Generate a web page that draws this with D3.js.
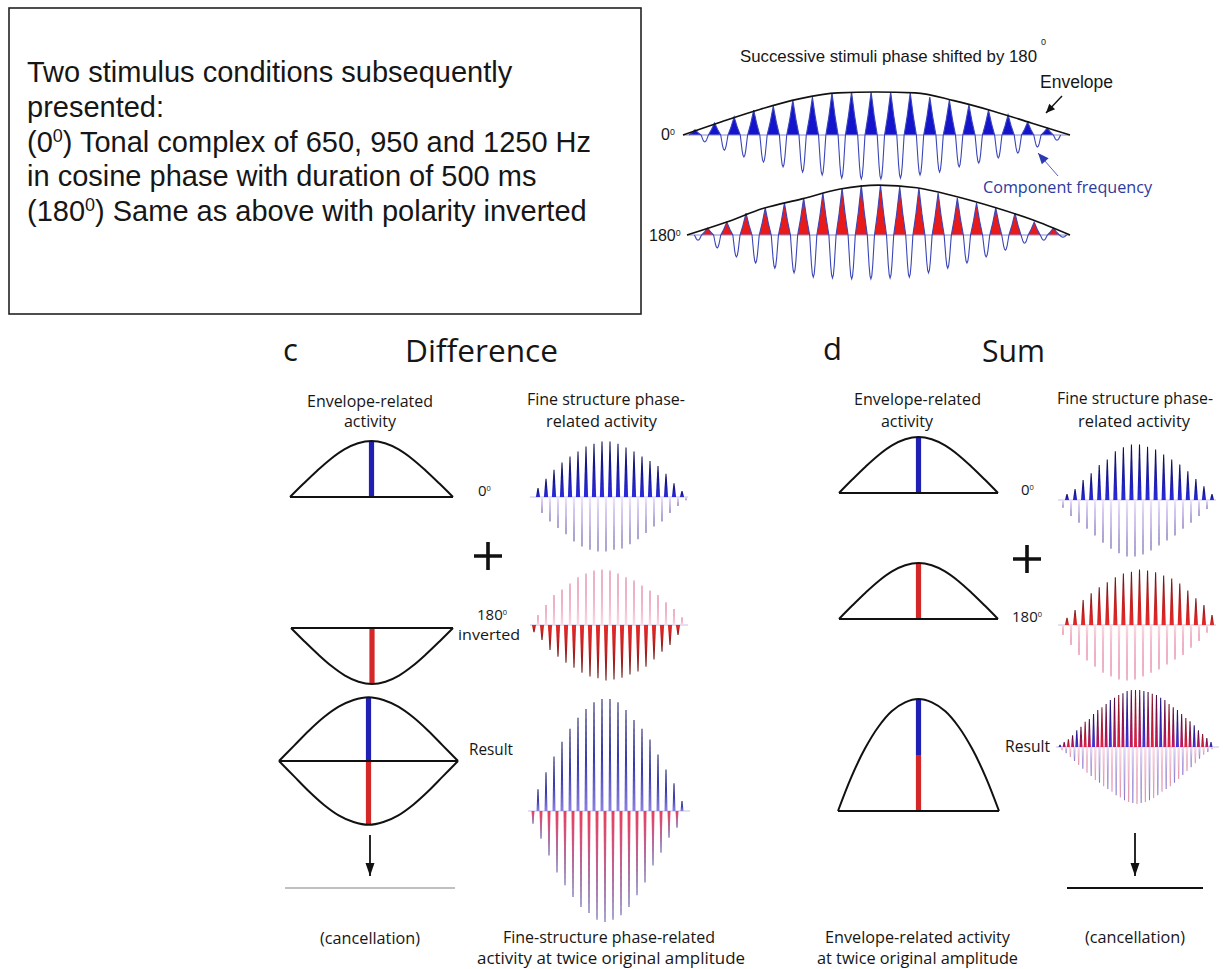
<!DOCTYPE html>
<html>
<head>
<meta charset="utf-8">
<script src="https://cdn.jsdelivr.net/npm/d3@7"></script>
<style>
  html, body { margin: 0; background: #fff; }
  svg { display: block; }
</style>
</head>
<body>
<svg id="fig" width="1223" height="969"></svg>
<script>
// ---------------------------------------------------------------------
// Stimulus waveforms (top right). Signed lobe amplitudes, in % of the
// 0-degree peak, ordered left to right (half-cycles).
const wave0 = [12,-16,28,-35,42,-51,58,-63,67,-74,81,-86,88,-93,98,-100,100,-102,100,
               -102,100,-100,98,-93,88,-86,81,-74,70,-65,58,-53,47,-42,30,-28,16,-12];
const wave180 = [-12,16,-30,30,-51,51,-65,63,-77,74,-88,86,-98,98,-100,109,-102,116,-102,
                 116,-100,112,-98,109,-88,98,-77,86,-65,74,-51,63,-35,51,-19,30,-12,16,-5];
// Envelope heights (%), sampled evenly across each stimulus
const envelope0 = [0, 31, 60, 84, 98, 100, 98, 80, 56, 28, 0];
const envelope180 = [0, 29, 62, 84, 107, 116, 110, 90, 65, 36, 0];

// Envelope-related activity (%), sampled evenly across each dome
const envSingle = [0, 24, 47, 68, 85, 96, 100, 96, 85, 68, 47, 24, 0];
const envDiffResult = [0, 27, 54, 78, 97, 109, 114, 109, 97, 78, 54, 27, 0];
const envSumResult = [0, 61, 111, 150, 178, 194, 200, 194, 178, 150, 111, 61, 0];

// Fine-structure phase-related activity (%), one value per spike
const diff0Up   = [16, 33, 49, 62, 73, 82, 91, 96, 100, 100, 96, 89, 82, 73, 65, 56, 42, 25, 11];
const diff0Down = [29, 44, 56, 67, 80, 89, 95, 98, 98, 95, 93, 85, 76, 65, 53, 44, 29, 16, 6];
const fine180Pale = [18, 36, 54, 64, 75, 86, 93, 98, 100, 98, 93, 86, 80, 71, 62, 54, 41, 29, 14];
const fine180Dark = [13, 27, 45, 57, 68, 77, 86, 93, 96, 100, 98, 95, 89, 84, 75, 62, 48, 36, 18];
const diffResultUp   = [39, 70, 98, 125, 148, 168, 184, 196, 202, 202, 196, 182, 164, 148, 129, 102, 75, 50, 18];
const diffResultDown = [23, 50, 80, 111, 134, 155, 173, 184, 196, 200, 196, 188, 173, 152, 129, 98, 75, 48, 30];
const sum0Up   = [11, 20, 36, 48, 63, 73, 88, 95, 100, 100, 96, 91, 82, 73, 64, 52, 38, 25, 11];
const sum0Down = [14, 29, 41, 52, 64, 77, 88, 96, 102, 102, 98, 91, 82, 73, 64, 52, 41, 29, 16];
const sumResultUp = [4, 9, 14, 21, 30, 36, 45, 50, 59, 66, 71, 77, 84, 88, 93, 96, 100, 102, 102,
                     102, 100, 98, 95, 93, 88, 84, 77, 71, 66, 59, 52, 46, 39, 30, 23, 16, 9];
const sumResultDown = [6, 11, 18, 25, 32, 39, 46, 52, 59, 64, 70, 75, 80, 86, 90, 95, 98, 100, 102,
                       100, 98, 95, 91, 86, 80, 75, 70, 64, 57, 50, 43, 36, 29, 21, 14, 9, 4];

// Text
const boxLines = [
  ["Two stimulus conditions subsequently"],
  ["presented:"],
  ["(0", "0", ") Tonal complex of 650, 950 and 1250 Hz"],
  ["in cosine phase with duration of 500 ms"],
  ["(180", "0", ") Same as above with polarity inverted"]
];
const stimTitle = "Successive stimuli phase shifted by 180";
// ---------------------------------------------------------------------

const svg = d3.select("#fig");
const defs = svg.append("defs");

function grad(id, stops) {
  const g = defs.append("linearGradient").attr("id", id)
    .attr("x1", 0).attr("y1", 0).attr("x2", 0).attr("y2", 1);
  stops.forEach(([o, c]) => g.append("stop").attr("offset", o).attr("stop-color", c));
}
grad("blueUp",   [[0, "#0c0c48"], [0.35, "#15158c"], [1, "#2c2ce0"]]);
grad("blueDown", [[0, "#efe6fa"], [0.5, "#c2b2e6"], [1, "#5e4ea2"]]);
grad("redDown",  [[0, "#e82a2a"], [0.6, "#b41e1e"], [1, "#5e1212"]]);
grad("redUp",    [[0, "#5e1212"], [0.4, "#b41e1e"], [1, "#e82a2a"]]);
grad("pinkUp",   [[0, "#dc7090"], [0.5, "#f0b0c2"], [1, "#f8dce4"]]);
grad("pinkDown", [[0, "#f8dce4"], [0.5, "#f0b0c2"], [1, "#dc7090"]]);
grad("diffUp",   [[0, "#1a1a66"], [0.5, "#3838b0"], [1, "#8c82e2"]]);
grad("diffDown", [[0, "#e8405e"], [0.5, "#c06090"], [1, "#5a50a2"]]);
grad("sumA", [[0, "#1a1070"], [1, "#4434d8"]]);
grad("sumB", [[0, "#4a0a3e"], [1, "#c81a62"]]);
grad("sumC", [[0, "#7a1020"], [1, "#e42444"]]);
grad("sumDA", [[0, "#fbe0e8"], [1, "#e08aa2"]]);
grad("sumDB", [[0, "#e6def8"], [1, "#8474cc"]]);
const soft = defs.append("filter").attr("id", "soft").attr("x", "-5%").attr("y", "-5%")
  .attr("width", "110%").attr("height", "110%");
soft.append("feGaussianBlur").attr("stdDeviation", 0.45);

// ---------- helpers ----------
function txt(x, y, parts, o = {}) {
  const t = svg.append("text")
    .attr("x", x).attr("y", y)
    .attr("font-family", o.font || "'Open Sans', sans-serif")
    .attr("font-size", o.size || 16)
    .attr("fill", o.color || "#161616")
    .attr("text-anchor", o.anchor || "start");
  if (o.len) t.attr("textLength", o.len).attr("lengthAdjust", "spacingAndGlyphs");
  const arr = Array.isArray(parts) ? parts : [parts];
  arr.forEach((p, i) => {
    const s = t.append("tspan").text(p);
    if (i % 2 === 1) s.attr("font-size", (o.size || 16) * (o.supScale || 0.6)).attr("baseline-shift", "super");
  });
  return t;
}
function arrow(x1, y1, x2, y2, color, w, head) {
  svg.append("line").attr("x1", x1).attr("y1", y1).attr("x2", x2).attr("y2", y2)
    .attr("stroke", color).attr("stroke-width", w);
  const a = Math.atan2(y2 - y1, x2 - x1), L = head[0], H = head[1];
  const bx = x2 - L * Math.cos(a), by = y2 - L * Math.sin(a);
  const px = -Math.sin(a) * H / 2, py = Math.cos(a) * H / 2;
  svg.append("path").attr("d", `M${x2},${y2}L${bx + px},${by + py}L${bx - px},${by - py}Z`).attr("fill", color);
}
function plus(cx, cy, r) {
  svg.append("path").attr("d", `M${cx - r},${cy}H${cx + r}M${cx},${cy - r}V${cy + r}`)
    .attr("stroke", "#111").attr("stroke-width", 3.6);
}

// ---------- text box ----------
svg.append("rect").attr("x", 9).attr("y", 8).attr("width", 632).attr("height", 306)
  .attr("fill", "none").attr("stroke", "#222").attr("stroke-width", 1.6);
const boxY = d3.scaleLinear().domain([0, 4]).range([82, 221]);
boxLines.forEach((ln, i) => txt(27, boxY(i), ln, { font: "'Liberation Sans', Arial, sans-serif", size: 29, supScale: 0.62 }));

// ---------- stimulus waveforms ----------
txt(740, 62, [stimTitle], { font: "'Liberation Sans', Arial, sans-serif", size: 17, len: 297 });
txt(1041, 45, "0", { font: "'Liberation Sans', Arial, sans-serif", size: 9 });

// lobe outlines as (fraction of lobe half-width, fraction of amplitude)
const posTpl = [[-1, 0], [-0.5, 0.45], [0, 1], [0.5, 0.45], [1, 0]];
const negTpl = [[-1, 0], [-0.75, 0.35], [-0.5, 0.7], [-0.25, 0.93], [0, 1], [0.25, 0.93], [0.5, 0.7], [0.75, 0.35], [1, 0]];
const POS_W = 1.25, NEG_W = 0.75;   // positive lobes broad, negative lobes narrow

function stimulus(vals, env, base, lobeRange, envRange, fillColor) {
  const g = svg.append("g");
  const xs = d3.scaleLinear().domain([0, vals.length - 1]).range(lobeRange);
  const ys = d3.scaleLinear().domain([0, 100]).range([0, 43]);
  const hw = (xs(1) - xs(0)) / 2;
  const lobe = (v, i) => {
    const w = (v > 0 ? POS_W : NEG_W) * hw;
    return (v > 0 ? posTpl : negTpl).map(([fx, fy]) => [xs(i) + fx * w, base - ys(v) * fy]);
  };
  // filled positive half-cycles
  vals.forEach((v, i) => {
    if (v > 0) g.append("path").attr("d", d3.line()(lobe(v, i)) + "Z").attr("fill", fillColor);
  });
  // zero line
  g.append("line").attr("x1", envRange[0]).attr("x2", envRange[1]).attr("y1", base).attr("y2", base)
    .attr("stroke", "#8a8ad0").attr("stroke-width", 1);
  // waveform outline
  const pts = [];
  vals.forEach((v, i) => lobe(v, i).forEach((p, j) => { if (j > 0 || !pts.length) pts.push(p); }));
  g.append("path").attr("d", d3.line()(pts)).attr("fill", "none")
    .attr("stroke", "#3a46b8").attr("stroke-width", 1.1);
  // envelope
  const ex = d3.scaleLinear().domain([0, env.length - 1]).range(envRange);
  g.append("path")
    .attr("d", d3.line().x((d, i) => ex(i)).y(d => base - ys(d)).curve(d3.curveMonotoneX)(env))
    .attr("fill", "none").attr("stroke", "#111").attr("stroke-width", 1.6);
}
stimulus(wave0, envelope0, 135, [695, 1057], [683, 1070], "#1414cc");
stimulus(wave180, envelope180, 235, [698, 1063], [687, 1070], "#e81a1a");

txt(661, 140, ["0", "0"], { font: "'Liberation Sans', Arial, sans-serif", size: 16, supScale: 0.55 });
txt(649, 241, ["180", "0"], { font: "'Liberation Sans', Arial, sans-serif", size: 16, supScale: 0.55 });
txt(1040, 88, "Envelope", { font: "'Liberation Sans', Arial, sans-serif", size: 17.5 });
arrow(1062, 96, 1046, 113, "#111", 1.4, [9, 8]);
txt(983, 193, "Component frequency", { size: 17, len: 169, color: "#2c3a9e" });
arrow(1058, 176, 1038, 153, "#2c3ab0", 0.8, [11, 9]);

// ---------- envelope-related activity ----------
function envPanel(shape, x0, x1, base, dir, bars) {
  const g = svg.append("g");
  const xs = d3.scaleLinear().domain([0, shape.length - 1]).range([x0, x1]);
  const ys = d3.scaleLinear().domain([0, 100]).range([0, 56]);
  const peak = d3.max(shape);
  const cx = xs((shape.length - 1) / 2);
  bars.forEach(([from, to, color]) => {
    const ya = base - dir * ys(peak * from), yb = base - dir * ys(peak * to);
    g.append("rect").attr("x", cx - 2.6).attr("width", 5.2)
      .attr("y", Math.min(ya, yb)).attr("height", Math.abs(yb - ya)).attr("fill", color);
  });
  g.append("path")
    .attr("d", d3.line().x((d, i) => xs(i)).y(d => base - dir * ys(d)).curve(d3.curveCatmullRom.alpha(0.5))(shape))
    .attr("fill", "none").attr("stroke", "#111").attr("stroke-width", 2);
  g.append("line").attr("x1", x0).attr("x2", x1).attr("y1", base).attr("y2", base)
    .attr("stroke", "#111").attr("stroke-width", 2);
}
const BLUE = "#2020b4", RED = "#d42828";

// ---------- fine-structure spikes ----------
function spikes(vals, range, base, dir, fill, w, scaleMax) {
  const g = svg.append("g").attr("filter", "url(#soft)");
  const xs = d3.scaleLinear().domain([0, vals.length - 1]).range(range);
  const ys = d3.scaleLinear().domain([0, 100]).range([0, scaleMax || 55.5]);
  g.selectAll(null).data(vals).join("path")
    .attr("d", (v, i) => {
      const x = xs(i), y = base - dir * ys(v);
      return `M${x - w / 2},${base}L${x - 0.5},${y}L${x + 0.5},${y}L${x + w / 2},${base}Z`;
    })
    .attr("fill", (v, i) => typeof fill === "function" ? fill(i) : fill);
}
function fineBase(x0, x1, y) {
  svg.append("line").attr("x1", x0).attr("x2", x1).attr("y1", y).attr("y2", y)
    .attr("stroke", "#b8b0dc").attr("stroke-width", 0.8);
}

// ===== Panel c: Difference =====
txt(283, 361, "c", { size: 31 });
txt(405, 362, "Difference", { size: 31, len: 153 });
txt(307, 407, "Envelope-related", { len: 126 });
txt(370, 427, "activity", { anchor: "middle" });
txt(527, 405, "Fine structure phase-", { len: 158 });
txt(546, 427, "related activity", { len: 111 });

envPanel(envSingle, 290, 453, 497, 1, [[0, 1, BLUE]]);
txt(478, 496, ["0", "0"], { size: 15, supScale: 0.5 });
fineBase(530, 688, 497);
spikes(diff0Down, [542, 686], 497, -1, "url(#blueDown)", 2.4);
spikes(diff0Up, [538, 682], 497, 1, "url(#blueUp)", 4.2);

plus(488, 556, 14);

envPanel(envSingle, 291, 453, 628, -1, [[0, 1, RED]]);
txt(477, 620, ["180", "0"], { size: 15, supScale: 0.5 });
txt(458, 640, "inverted", { len: 62, size: 15 });
fineBase(530, 688, 625);
spikes(fine180Pale, [538, 682], 625, 1, "url(#pinkUp)", 2.6);
spikes(fine180Dark, [534, 678], 625, -1, "url(#redDown)", 4.2);

envPanel(envDiffResult, 279, 458, 761, 1, [[0, 1, BLUE]]);
envPanel(envDiffResult, 279, 458, 761, -1, [[0, 1, RED]]);
txt(469, 755, "Result", { len: 44 });
fineBase(528, 690, 811);
spikes(diffResultDown, [533, 677], 811, -1, "url(#diffDown)", 3);
spikes(diffResultUp, [538, 682], 811, 1, "url(#diffUp)", 3);

arrow(370, 835, 370, 876, "#111", 1.8, [13, 9]);
svg.append("line").attr("x1", 285).attr("x2", 455).attr("y1", 888).attr("y2", 888)
  .attr("stroke", "#ababab").attr("stroke-width", 1.5);
txt(370, 944, "(cancellation)", { anchor: "middle", len: 100 });
txt(503, 943, "Fine-structure phase-related", { len: 212 });
txt(477, 964, "activity at twice original amplitude", { len: 268 });

// ===== Panel d: Sum =====
txt(823, 360, "d", { size: 31 });
txt(982, 362, "Sum", { size: 31, len: 63 });
txt(854, 405, "Envelope-related", { len: 127 });
txt(907, 427, "activity", { anchor: "middle" });
txt(1057, 404, "Fine structure phase-", { len: 156 });
txt(1078, 427, "related activity", { len: 112 });

envPanel(envSingle, 839, 998, 493, 1, [[0, 1, BLUE]]);
txt(1021, 495, ["0", "0"], { size: 15, supScale: 0.5 });
fineBase(1058, 1216, 500);
spikes(sum0Down, [1063, 1207], 500, -1, "url(#blueDown)", 2.4);
spikes(sum0Up, [1067, 1212], 500, 1, "url(#blueUp)", 4.2);

plus(1027, 559, 14);

envPanel(envSingle, 839, 998, 619, 1, [[0, 1, RED]]);
txt(1012, 622, ["180", "0"], { size: 15, supScale: 0.5 });
fineBase(1058, 1216, 625);
spikes(fine180Pale, [1063, 1207], 625, -1, "url(#pinkDown)", 2.6);
spikes(fine180Dark, [1067, 1212], 625, 1, "url(#redUp)", 4.2);

envPanel(envSumResult, 838, 999, 811, 1, [[0, 0.5, RED], [0.5, 1, BLUE]]);
txt(1005, 752, "Result", { len: 45 });
const upFills = ["url(#sumA)", "url(#sumB)", "url(#sumC)", "url(#sumB)"];
const downFills = ["url(#sumDA)", "url(#sumDB)"];
fineBase(1056, 1219, 747);
spikes(sumResultDown, [1062, 1212], 747, -1, i => downFills[i % 2], 2.6, 56);
spikes(sumResultUp, [1060, 1211], 747, 1, i => upFills[i % 4], 3, 56);

arrow(1135, 833, 1135, 876, "#111", 1.8, [13, 9]);
svg.append("line").attr("x1", 1067).attr("x2", 1203).attr("y1", 888).attr("y2", 888)
  .attr("stroke", "#111").attr("stroke-width", 2);
txt(1135, 943, "(cancellation)", { anchor: "middle", len: 100 });
txt(825, 943, "Envelope-related activity", { len: 185 });
txt(817, 964, "at twice original amplitude", { len: 201 });
</script>
</body>
</html>
